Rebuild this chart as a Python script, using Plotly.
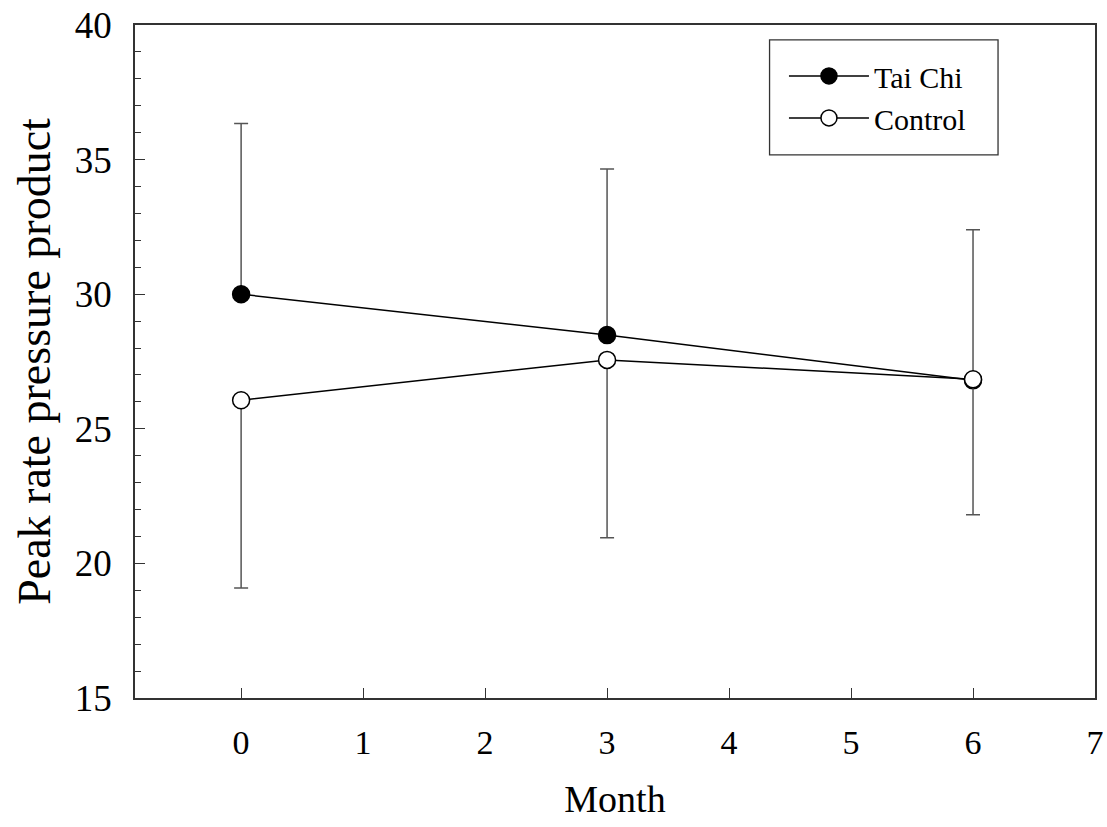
import plotly.graph_objects as go

months = [0, 3, 6]
tai_chi_mean = [30.0, 28.48, 26.80]
tai_chi_err_up = [6.34, 6.17, 5.59]
control_mean = [26.06, 27.56, 26.84]
control_err_down = [6.97, 6.61, 5.03]
x_ticks = [0, 1, 2, 3, 4, 5, 6, 7]
y_ticks = [15, 20, 25, 30, 35, 40]

FONT = "Liberation Serif"

fig = go.Figure()
fig.add_trace(go.Scatter(
    x=months, y=tai_chi_mean, name="Tai Chi", mode="lines+markers",
    line=dict(color="black", width=1.5),
    marker=dict(size=17, color="black", line=dict(color="black", width=1.5)),
    error_y=dict(type="data", symmetric=False, array=tai_chi_err_up,
                 arrayminus=[0, 0, 0], color="#555555", thickness=1.5, width=7),
))
fig.add_trace(go.Scatter(
    x=months, y=control_mean, name="Control", mode="lines+markers",
    line=dict(color="black", width=1.5),
    marker=dict(size=17, color="white", line=dict(color="black", width=1.5)),
    error_y=dict(type="data", symmetric=False, array=[0, 0, 0],
                 arrayminus=control_err_down, color="#555555", thickness=1.5, width=7),
))

fig.update_layout(
    width=1107, height=827,
    margin=dict(l=135, r=12, t=25, b=129, autoexpand=False),
    plot_bgcolor="white", paper_bgcolor="white",
    font=dict(family=FONT, color="black"),
    showlegend=True,
    legend=dict(
        x=0.676, y=0.963, xanchor="left", yanchor="top",
        bgcolor="rgba(0,0,0,0)", borderwidth=0,
        font=dict(family=FONT, size=30, color="black"),
        itemwidth=80, tracegroupgap=0,
    ),
    shapes=[dict(type="rect", xref="paper", yref="paper",
                 x0=0.661, x1=0.899, y0=0.807, y1=0.978,
                 line=dict(color="#333333", width=1.3), fillcolor="rgba(0,0,0,0)")],
)
fig.update_xaxes(
    range=[-0.87, 7], tickvals=x_ticks, ticks="inside", ticklen=10,
    tickwidth=1.2, tickcolor="#333333",
    showline=True, linecolor="#333333", linewidth=1.5, mirror=True,
    showgrid=False, zeroline=False,
    tickfont=dict(family=FONT, size=34), ticklabelstandoff=13,
    title=dict(text="Month", font=dict(family=FONT, size=38), standoff=26),
)
fig.update_yaxes(
    range=[15, 40], tickvals=y_ticks, ticks="inside", ticklen=10,
    tickwidth=1.2, tickcolor="#333333",
    minor=dict(dtick=1, ticks="inside", ticklen=6, tickwidth=1.2, tickcolor="#333333"),
    showline=True, linecolor="#333333", linewidth=1.5, mirror=True,
    showgrid=False, zeroline=False,
    tickfont=dict(family=FONT, size=37), ticklabelstandoff=14,
    title=dict(text="Peak rate pressure product", font=dict(family=FONT, size=46), standoff=10),
)

fig.write_html("out.html", config={"displayModeBar": False},
               post_script="document.body.style.margin='0';")
